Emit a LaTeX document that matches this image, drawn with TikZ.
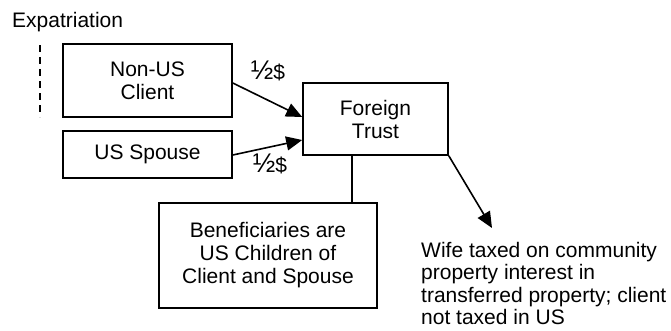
\documentclass[tikz,border=0pt]{standalone}
\usepackage{fontspec}
\setmainfont{Liberation Sans}
\usetikzlibrary{arrows.meta}
\newcommand{\halfdollar}{{\fontsize{27}{27}\selectfont ½}\$}
\begin{document}
\begin{tikzpicture}[x=1pt,y=-1pt,
  txt/.style={font=\fontsize{21}{23}\selectfont, inner sep=0pt},
  box/.style={txt, draw, line width=1.6pt, align=center},
  arr/.style={line width=1.6pt, -{Triangle[length=16pt,width=14pt]}},
  conn/.style={line width=1.6pt}]
\useasboundingbox (0,0) rectangle (671,330);
\node[txt, anchor=base west] (exp) at (12,27) {Expatriation};
\coordinate (d1) at (40,45);
\coordinate (d2) at (40,117);
\draw[line width=1.4pt, dash pattern=on 7pt off 5pt] (d1) -- (d2);
\node[box, minimum width=169pt, minimum height=73pt] (client) at (147.5,80.5) {Non-US\\Client};
\node[box, minimum width=169pt, minimum height=47pt] (spouse) at (147.5,154.5) {US Spouse};
\node[box, minimum width=145pt, minimum height=72pt] (trust) at (375.5,119) {Foreign\\Trust};
\node[box, minimum width=218pt, minimum height=105pt] (ben) at (268,255.5) {Beneficiaries are\\US Children of\\Client and Spouse};
\node[txt, align=left, anchor=north west, font=\fontsize{21}{22.5}\selectfont] (wife) at (421,242) {Wife taxed on community\\property interest in\\transferred property; client\\not taxed in US};
\coordinate (tip) at (492,228);
\draw[arr] (client.east |- 0,83) -- (trust.west |- 0,117);
\draw[arr] (spouse.east |- 0,155) -- (trust.west |- 0,140);
\draw[arr] (trust.south east) -- (tip);
\draw[conn] (trust.south -| 352,0) -- (ben.north -| 352,0);
\node[txt] (h1) at (268,71) {\halfdollar};
\node[txt] (h2) at (270,164) {\halfdollar};
\end{tikzpicture}
\end{document}
